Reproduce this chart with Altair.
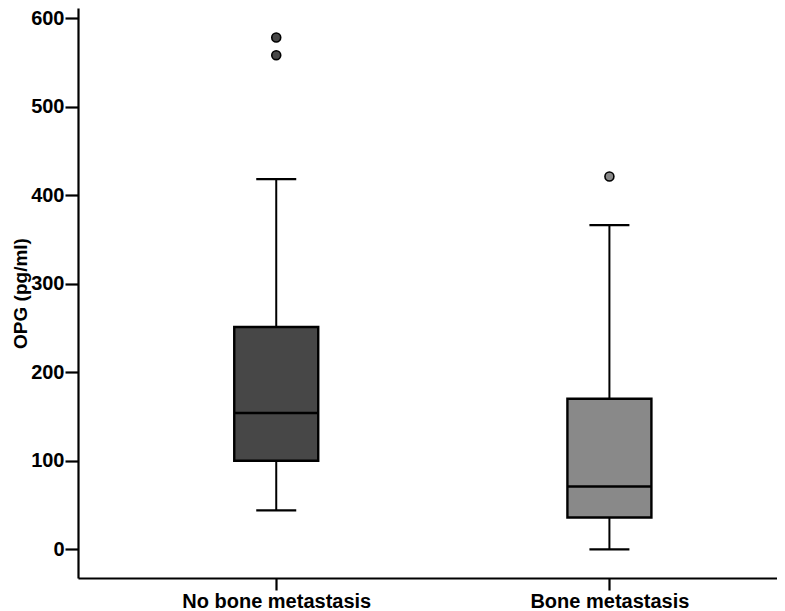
import altair as alt
import pandas as pd

groups = ["No bone metastasis", "Bone metastasis"]
positions = [1, 2]
lower_whisker = [44, 0]
q1 = [100, 36]
median = [154, 71]
q3 = [251, 170]
upper_whisker = [418, 366]
fill_colors = ["#474747", "#898989"]

outlier_group = ["No bone metastasis", "No bone metastasis", "Bone metastasis"]
outlier_pos = [1, 1, 2]
outlier_value = [578, 558, 421]

stats = pd.DataFrame({
    "group": groups, "pos": positions, "lo": lower_whisker, "q1": q1,
    "med": median, "q3": q3, "hi": upper_whisker,
})
outs = pd.DataFrame({"group": outlier_group, "pos": outlier_pos, "val": outlier_value})

label_expr = "datum.value == 1 ? '%s' : (datum.value == 2 ? '%s' : '')" % (groups[0], groups[1])

x_enc = alt.X("pos:Q", scale=alt.Scale(domain=[0.42, 2.488], nice=False, zero=False),
              axis=alt.Axis(values=positions, labelExpr=label_expr, title=None, grid=False,
                            labelLimit=0))
y_scale = alt.Scale(domain=[-32.4, 611.3], nice=False, zero=False)
y_axis = alt.Axis(values=[0, 100, 200, 300, 400, 500, 600], title="OPG (pg/ml)", grid=False)
color = alt.Color("group:N", scale=alt.Scale(domain=groups, range=fill_colors), legend=None)

base = alt.Chart(stats)

whisker = base.mark_rule(color="black", strokeWidth=2).encode(
    x=x_enc, y=alt.Y("lo:Q", scale=y_scale, axis=y_axis), y2="hi:Q")
box = base.mark_bar(size=84, stroke="black", strokeWidth=2.4).encode(
    x=x_enc, y=alt.Y("q1:Q", scale=y_scale, axis=y_axis), y2="q3:Q", color=color)
med = base.mark_tick(orient="horizontal", size=84, thickness=2.5, color="black", opacity=1).encode(
    x=x_enc, y=alt.Y("med:Q", scale=y_scale, axis=y_axis))
cap_lo = base.mark_tick(orient="horizontal", size=40, thickness=2.2, color="black", opacity=1).encode(
    x=x_enc, y=alt.Y("lo:Q", scale=y_scale, axis=y_axis))
cap_hi = base.mark_tick(orient="horizontal", size=40, thickness=2.2, color="black", opacity=1).encode(
    x=x_enc, y=alt.Y("hi:Q", scale=y_scale, axis=y_axis))
pts = alt.Chart(outs).mark_point(filled=True, size=80, stroke="black", strokeWidth=1.6, opacity=1).encode(
    x=x_enc, y=alt.Y("val:Q", scale=y_scale, axis=y_axis),
    fill=alt.Fill("group:N", scale=alt.Scale(domain=groups, range=fill_colors), legend=None))

chart = alt.layer(whisker, box, med, cap_lo, cap_hi, pts).properties(
    width=699, height=570,
    autosize=alt.AutoSizeParams(type="none"),
    padding={"left": 70, "top": 0, "right": 0, "bottom": 36},
).configure_view(stroke=None).configure_axis(
    domainColor="black", domainWidth=2.2, tickColor="black", tickWidth=2.2, tickSize=12,
    labelFont="Liberation Sans", labelFontWeight="bold", labelFontSize=20, labelColor="black",
    titleFont="Liberation Sans", titleFontWeight="bold", titleFontSize=19, titleColor="black",
).configure_axisY(labelPadding=1, titlePadding=0, tickSize=13).configure_axisX(labelPadding=1)

chart.save("out.html", embed_options={"renderer": "svg", "actions": False})
